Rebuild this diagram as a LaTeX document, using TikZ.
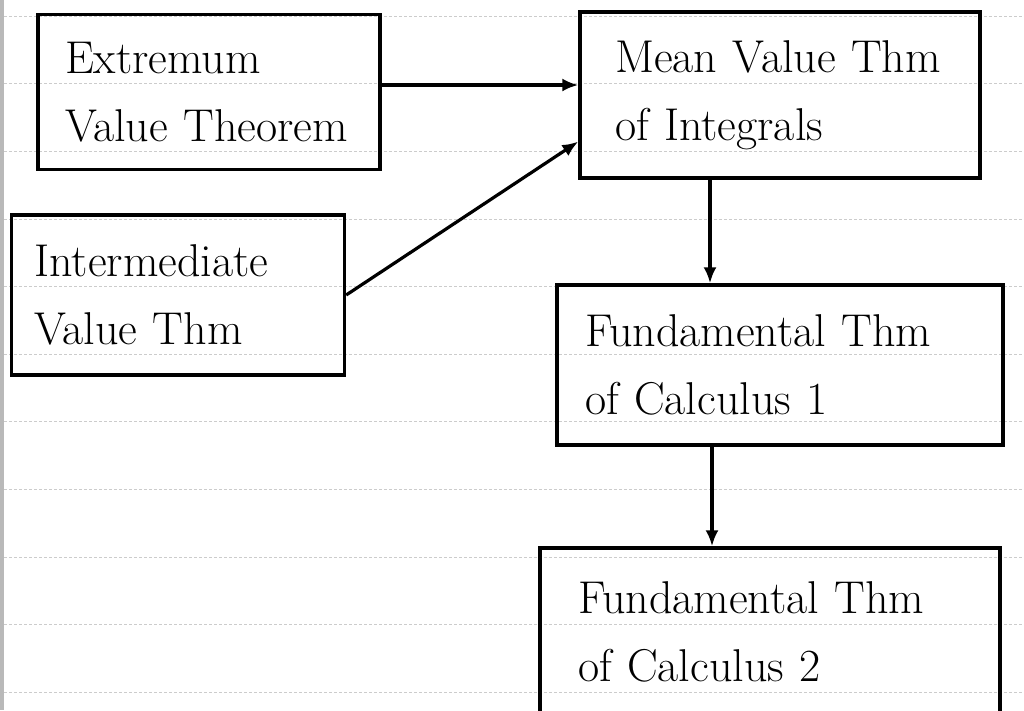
\documentclass[tikz,border=0pt]{standalone}
\usepackage{fontspec}
\usetikzlibrary{arrows.meta,positioning,calc}
\hyphenpenalty=10000

\begin{document}
\begin{tikzpicture}[
  x=1pt, y=-1pt,
  >={Latex[length=16pt,width=13pt]},
  every node/.style={font=\fontsize{46}{68}\selectfont},
  thm/.style={rectangle, draw, line width=3.4pt, align=left, inner ysep=0pt},
  link/.style={->, line width=3.2pt},
  rule/.style={gray!40, densely dashed, line width=0.5pt},
]
  \useasboundingbox (0,0) rectangle (1024,710);
  % Ruled paper
  \fill[gray!55] (0,0) rectangle (4,710);
  \foreach \k in {0,...,10} {
    \draw[rule] (4,{16+67.6*\k}) -- (1024,{16+67.6*\k});
  }
  % Theorems
  \node[thm, minimum width=342pt, minimum height=155pt, inner xsep=27pt,
        text width=288pt] (evt) at (209,92) {Extremum\\Value~Theorem};
  \node[thm, minimum width=400pt, minimum height=166pt, inner xsep=35pt,
        text width=330pt] (mvt) at (780,95) {Mean~Value~Thm\\of~Integrals};
  \node[thm, minimum width=333pt, minimum height=160pt, inner xsep=23pt,
        text width=287pt] (ivt) at (178,295) {Intermediate\\Value~Thm};
  \node[thm, minimum width=446pt, minimum height=160pt, inner xsep=28pt,
        text width=390pt] (ftc1) at (780,365) {Fundamental~Thm\\of~Calculus~1};
  \node[thm, minimum width=460pt, minimum height=168pt, inner xsep=38pt,
        text width=384pt] (ftc2) at (770,632) {Fundamental~Thm\\of~Calculus~2};
  % Links
  \draw[link] ([yshift=7pt]evt.east) -- ([yshift=7pt]evt.east -| mvt.west);
  \draw[link] (ivt.east) -- (mvt.193);
  \draw[link] ([xshift=-70pt]mvt.south) -- ([xshift=-70pt]mvt.south |- ftc1.north);
  \draw[link] ([xshift=-68pt]ftc1.south) -- ([xshift=-68pt]ftc1.south |- ftc2.north);
\end{tikzpicture}
\end{document}
